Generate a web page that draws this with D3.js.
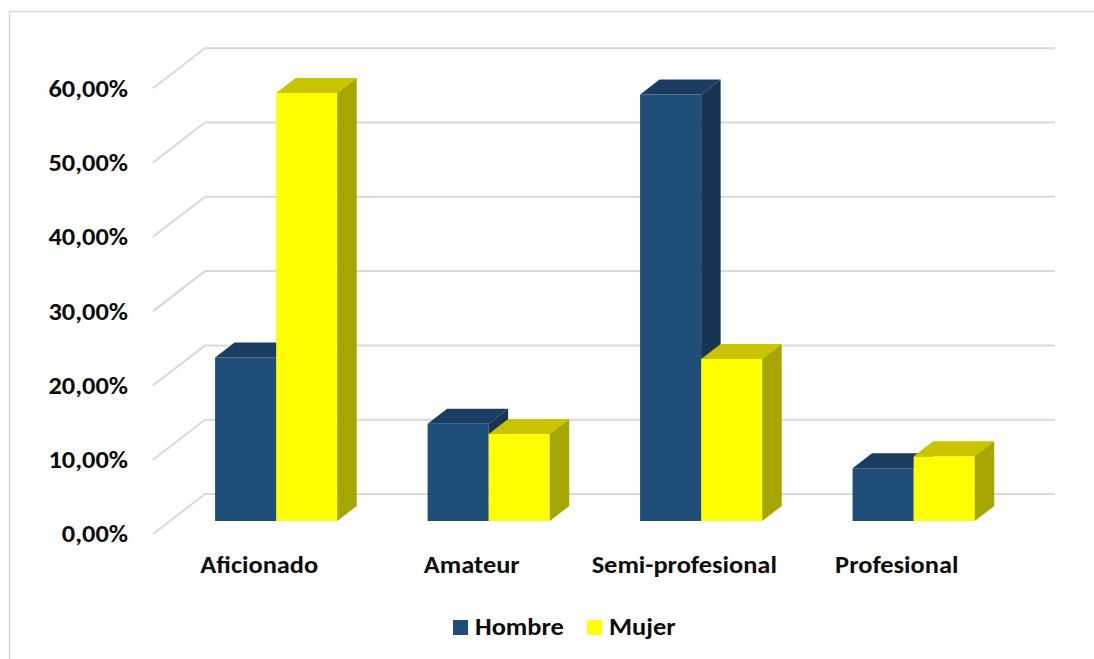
<!DOCTYPE html>
<html>
<head>
<meta charset="utf-8">
<script src="https://cdn.jsdelivr.net/npm/d3@7"></script>
<style>
  html, body { margin: 0; padding: 0; background: #fff; }
  svg { display: block; }
  text { font-family: Carlito, Calibri, "Liberation Sans", sans-serif; font-weight: bold; fill: #0d0d0d; }
</style>
</head>
<body>
<svg id="chart" width="1094" height="659"></svg>
<script>
// Distribución por categoría y sexo (%)
const categories = ["Aficionado", "Amateur", "Semi-profesional", "Profesional"];
const series = ["Hombre", "Mujer"];
const hombre = [22.0, 13.1, 57.4, 7.1];
const mujer  = [57.6, 11.7, 21.8, 8.7];
const yTicks = [0, 10, 20, 30, 40, 50, 60];

const values = { Hombre: hombre, Mujer: mujer };
const palette = {
  Hombre: { front: "#1f4e79", top: "#1a3d61", side: "#163454" },
  Mujer:  { front: "#ffff00", top: "#c8c400", side: "#a6a600" }
};

// text is slightly widened, like the chart's original rendering
const stretch = 1.1;
const place = (px, py) => `translate(${px},${py}) scale(${stretch},1)`;

const svg = d3.select("#chart");

// chart area frame
svg.append("rect")
  .attr("x", 9.5).attr("y", 11.5)
  .attr("width", 1200).attr("height", 700)
  .attr("fill", "#fff").attr("stroke", "#d9d9d9").attr("stroke-width", 1.5);

// oblique projection: depth t in [0,1] shifts right and up
const depthX = 52, depthY = -40;
const floorLeft = 153, floorRight = 1003;
const y = d3.scaleLinear().domain([0, 60]).range([534, 88.2]);
const x = d3.scaleBand().domain(categories).range([floorLeft, floorRight]);
const xs = d3.scaleBand().domain(series).range([0, x.bandwidth()]).paddingInner(0).paddingOuter(0.74);

const P = (px, v, t) => [px + depthX * t, y(v) + depthY * t];

// gridlines on the back wall and side wall
const grid = svg.append("g");
yTicks.forEach(v => {
  const [fx, fy] = P(floorLeft, v, 0);
  const [bx, by] = P(floorLeft, v, 1);
  const [ex] = P(floorRight, v, 1);
  grid.append("path")
    .attr("d", `M${fx},${fy}L${bx},${by}L${ex},${by}`)
    .attr("fill", "none").attr("stroke", "#d9d9d9").attr("stroke-width", 2);
});

// value axis labels
const fmt = v => d3.format(".2f")(v).replace(".", ",") + "%";
svg.append("g").selectAll("text").data(yTicks).join("text")
  .attr("transform", d => place(128, y(d)))
  .attr("dy", "0.35em")
  .attr("text-anchor", "end")
  .attr("font-size", 24)
  .text(fmt);

// 3D columns
const t0 = 0.325, t1 = 0.7;
const bars = svg.append("g");
categories.forEach((c, i) => {
  series.forEach(s => {
    const v = values[s][i];
    const x0 = x(c) + xs(s), x1 = x0 + xs.bandwidth();
    const col = palette[s];
    const a = P(x0, 0, t0), b = P(x1, 0, t0), cTop = P(x1, v, t0), d = P(x0, v, t0);
    const e = P(x0, v, t1), f = P(x1, v, t1), g = P(x1, 0, t1);
    const poly = pts => "M" + pts.map(p => p.join(",")).join("L") + "Z";
    const grp = bars.append("g");
    grp.append("path").attr("d", poly([a, b, cTop, d])).attr("fill", col.front);
    grp.append("path").attr("d", poly([d, cTop, f, e])).attr("fill", col.top);
    grp.append("path").attr("d", poly([b, g, f, cTop])).attr("fill", col.side);
  });
});

// category labels
svg.append("g").selectAll("text").data(categories).join("text")
  .attr("transform", d => place(x(d) + x.bandwidth() / 2, 573))
  .attr("text-anchor", "middle")
  .attr("font-size", 24)
  .text(d => d);

// legend
const legend = svg.append("g");
const legendItems = [{ s: "Hombre", x: 453 }, { s: "Mujer", x: 587 }];
legendItems.forEach(it => {
  legend.append("rect").attr("x", it.x).attr("y", 620).attr("width", 15).attr("height", 15)
    .attr("fill", palette[it.s].front);
  legend.append("text").attr("transform", place(it.x + 22, 635))
    .attr("font-size", 24).text(it.s);
});
</script>
</body>
</html>
